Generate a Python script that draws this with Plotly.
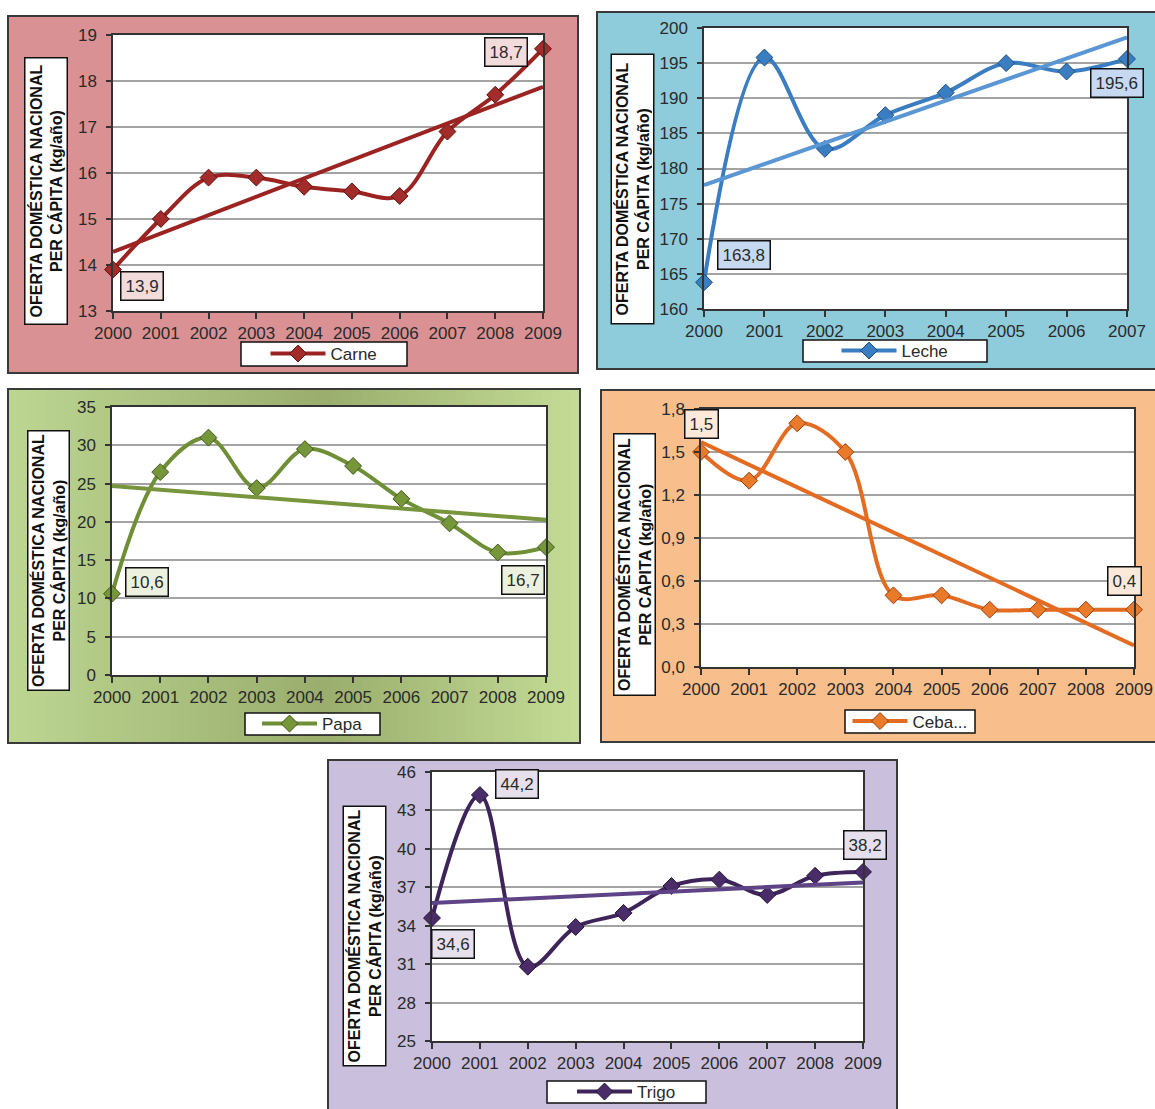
import numpy as np
import plotly.graph_objects as go

W, H = 1155, 1109

# ---- data -------------------------------------------------------------
years_10 = list(range(2000, 2010))
years_8 = list(range(2000, 2008))

carne = [13.9, 15.0, 15.9, 15.9, 15.7, 15.6, 15.5, 16.9, 17.7, 18.7]
leche = [163.8, 195.8, 182.8, 187.6, 190.8, 195.0, 193.8, 195.6]
papa = [10.6, 26.5, 31.0, 24.4, 29.5, 27.3, 23.0, 19.8, 16.0, 16.7]
cebolla = [1.5, 1.3, 1.7, 1.5, 0.5, 0.5, 0.4, 0.4, 0.4, 0.4]
trigo = [34.6, 44.2, 30.8, 33.9, 35.0, 37.1, 37.6, 36.4, 37.9, 38.2]

names = ["Carne", "Leche", "Papa", "Ceba...", "Trigo"]
y_title = "OFERTA DOMÉSTICA NACIONAL<br>PER CÁPITA (kg/año)"

FONT = "Liberation Sans, Arial, sans-serif"
TXT = "#2a2a2a"


def fx(px):
    return px / W


def fy(py):
    return 1 - py / H


# ---- panel layout (pixel boxes: x0, y0, x1, y1) -----------------------
panels = [
    dict(name=names[0], x=years_10, y=carne,
         panel=(8, 16, 578, 373), plot=(113, 35, 543, 311),
         title=(23, 57, 68, 326), legend=(241, 342, 407, 366),
         bg="#D99194", line="#9B2422", trend="#9B2422", marker="#A12C2A", mline="#5E1210",
         lab_bg="#F2DCDB", yrange=(13, 19), dtick=1, fmt="",
         labels=[(0, "left", "top", 7, -1), (9, "right", "middle", -15, -3)]),
    dict(name=names[1], x=years_8, y=leche,
         panel=(597, 12, 1160, 369), plot=(704, 28, 1127, 309),
         title=(610, 53, 655, 325), legend=(803, 340, 987, 362),
         bg="#8ECCDB", line="#3B7DC1", trend="#5A96D4", marker="#3B7DC1", mline="#1D4E80",
         lab_bg="#C6D9F1", yrange=(160, 200), dtick=5, fmt="",
         labels=[(0, "left", "bottom", 13, 12), (7, "center", "top", -10, -9)]),
    dict(name=names[2], x=years_10, y=papa,
         panel=(8, 389, 580, 743), plot=(112, 407, 546, 675),
         title=(26, 430, 70, 692), legend=(245, 713, 380, 735),
         bg=None, line="#6F8F36", trend="#77953D", marker="#76963A", mline="#3F561A",
         lab_bg="#EBF1DE", yrange=(0, 35), dtick=5, fmt="",
         labels=[(0, "left", "middle", 13, 12), (9, "right", "top", -1, -18)]),
    dict(name=names[3], x=years_10, y=cebolla,
         panel=(601, 390, 1160, 742), plot=(701, 409, 1134, 667),
         title=(612, 433, 656, 697), legend=(845, 710, 975, 733),
         bg="#F8BE8C", line="#E46C22", trend="#E46C22", marker="#E87A2A", mline="#9A4010",
         lab_bg="#FDE9D9", yrange=(0, 1.8), dtick=0.3, fmt=".1f",
         labels=[(0, "center", "bottom", 0, 13), (9, "center", "bottom", -10, 14)]),
    dict(name=names[4], x=years_10, y=trigo,
         panel=(328, 760, 897, 1115), plot=(432, 772, 863, 1041),
         title=(342, 805, 387, 1067), legend=(547, 1081, 706, 1103),
         bg="#CABFDC", line="#3F2459", trend="#5E4486", marker="#4A2C68", mline="#24123A",
         lab_bg="#E5E0EC", yrange=(25, 46), dtick=3, fmt="",
         labels=[(1, "left", "middle", 15, 11), (0, "left", "top", -1, -11),
                 (9, "center", "bottom", 2, 12)]),
]

fig = go.Figure()
shapes = []
annotations = []
layout = dict(
    template="none",
    width=W, height=H,
    autosize=False,
    margin=dict(l=0, r=0, t=0, b=0, pad=0, autoexpand=False),
    paper_bgcolor="white",
    plot_bgcolor="white",
    separators=",.",
    font=dict(family=FONT, color=TXT),
    showlegend=True,
    hovermode=False,
)


def mix(c1, c2, t):
    a = [int(c1[i:i + 2], 16) for i in (1, 3, 5)]
    b = [int(c2[i:i + 2], 16) for i in (1, 3, 5)]
    return "#%02x%02x%02x" % tuple(round(a[k] + (b[k] - a[k]) * t) for k in range(3))


def rect(x0, y0, x1, y1, fill, line_w=0, line_c="rgba(0,0,0,0)", layer="below"):
    return dict(type="rect", xref="paper", yref="paper", layer=layer,
                x0=fx(x0), x1=fx(x1), y0=fy(y1), y1=fy(y0),
                fillcolor=fill, line=dict(width=line_w, color=line_c))


for i, p in enumerate(panels):
    n = "" if i == 0 else str(i + 1)
    xa, ya = "x" + n, "y" + n
    px0, py0, px1, py1 = p["panel"]

    # panel background
    if p["bg"] is not None:
        shapes.append(rect(px0, py0, px1, py1, p["bg"]))
    else:
        # horizontal light-dark-light green gradient
        stops = [(0.0, "#BDD692"), (0.55, "#9AAD6D"), (1.0, "#C4DC96")]
        nstrip = 60
        for k in range(nstrip):
            t = (k + 0.5) / nstrip
            for (t0, c0), (t1, c1) in zip(stops[:-1], stops[1:]):
                if t0 <= t <= t1:
                    col = mix(c0, c1, (t - t0) / (t1 - t0))
                    break
            sx0 = px0 + (px1 - px0) * k / nstrip
            sx1 = min(px0 + (px1 - px0) * (k + 1) / nstrip + 0.8, px1)
            shapes.append(rect(sx0, py0, sx1, py1, col))
    shapes.append(rect(px0, py0, px1, py1, "rgba(0,0,0,0)", 2, "#3a3a3a"))
    # white plot area
    qx0, qy0, qx1, qy1 = p["plot"]
    shapes.append(rect(qx0, qy0, qx1, qy1, "white"))
    # legend frame
    lx0, ly0, lx1, ly1 = p["legend"]
    shapes.append(rect(lx0, ly0, lx1, ly1, "white", 1.5, "#111111"))

    xs = p["x"]
    ys = p["y"]
    leg = "legend" + n
    fig.add_trace(go.Scatter(
        x=xs, y=ys, name=p["name"], mode="lines+markers",
        xaxis=xa, yaxis=ya, legend=leg, cliponaxis=False,
        line=dict(shape="spline", smoothing=1.0, width=4, color=p["line"]),
        marker=dict(symbol="diamond", size=13, color=p["marker"],
                    line=dict(width=1, color=p["mline"])),
    ))
    coef = np.polyfit(xs, ys, 1)
    fig.add_trace(go.Scatter(
        x=xs, y=np.polyval(coef, xs), mode="lines", showlegend=False,
        xaxis=xa, yaxis=ya, hoverinfo="skip",
        line=dict(width=4, color=p["trend"]),
    ))

    axis_line = dict(showline=True, mirror=True, linecolor="#333333", linewidth=1.5,
                     ticks="outside", tickcolor="#333333", tickwidth=1.5,
                     zeroline=False, fixedrange=True, automargin=False,
                     tickfont=dict(size=17, color=TXT, family=FONT))
    layout["xaxis" + n] = dict(
        domain=[fx(qx0), fx(qx1)], anchor=ya,
        range=[xs[0], xs[-1]], tickvals=xs, ticklen=6, showgrid=False,
        **axis_line)
    lo, hi = p["yrange"]
    layout["yaxis" + n] = dict(
        domain=[fy(qy1), fy(qy0)], anchor=xa,
        range=[lo, hi], dtick=p["dtick"], tick0=lo, tickformat=p["fmt"], ticklen=5,
        ticklabelstandoff=6,
        showgrid=True, gridcolor="#a3a3a3", gridwidth=1.5,
        **axis_line)

    # y-axis title box
    tx0, ty0, tx1, ty1 = p["title"]
    annotations.append(dict(
        xref="paper", yref="paper", x=fx((tx0 + tx1) / 2), y=fy((ty0 + ty1) / 2),
        xanchor="center", yanchor="middle", showarrow=False, textangle=-90,
        text="<b>" + y_title + "</b>", align="center",
        width=(ty1 - ty0) - 6, height=(tx1 - tx0) - 6,
        bgcolor="white", bordercolor="#111111", borderwidth=1.5, borderpad=1,
        font=dict(size=16, color="#111111", family=FONT)))

    # data value labels
    for idx, xan, yan, xsft, ysft in p["labels"]:
        annotations.append(dict(
            xref=xa, yref=ya, x=xs[idx], y=ys[idx],
            text=f"{ys[idx]:.1f}".replace(".", ","), showarrow=False,
            xanchor=xan, yanchor=yan, xshift=xsft, yshift=ysft,
            bgcolor=p["lab_bg"], bordercolor="#111111", borderwidth=1.5, borderpad=4,
            font=dict(size=17, color=TXT, family=FONT)))

    layout[leg] = dict(
        x=fx((lx0 + lx1) / 2), y=fy((ly0 + ly1) / 2), xanchor="center", yanchor="middle",
        orientation="h", bgcolor="rgba(0,0,0,0)", borderwidth=0,
        itemwidth=55,
        font=dict(size=17, color=TXT, family=FONT))

layout["shapes"] = shapes
layout["annotations"] = annotations
fig.update_layout(**layout)

fig.write_html(
    "out.html",
    config={"responsive": False, "displayModeBar": False},
    post_script="document.body.style.margin='0';document.body.style.overflow='hidden';",
)
